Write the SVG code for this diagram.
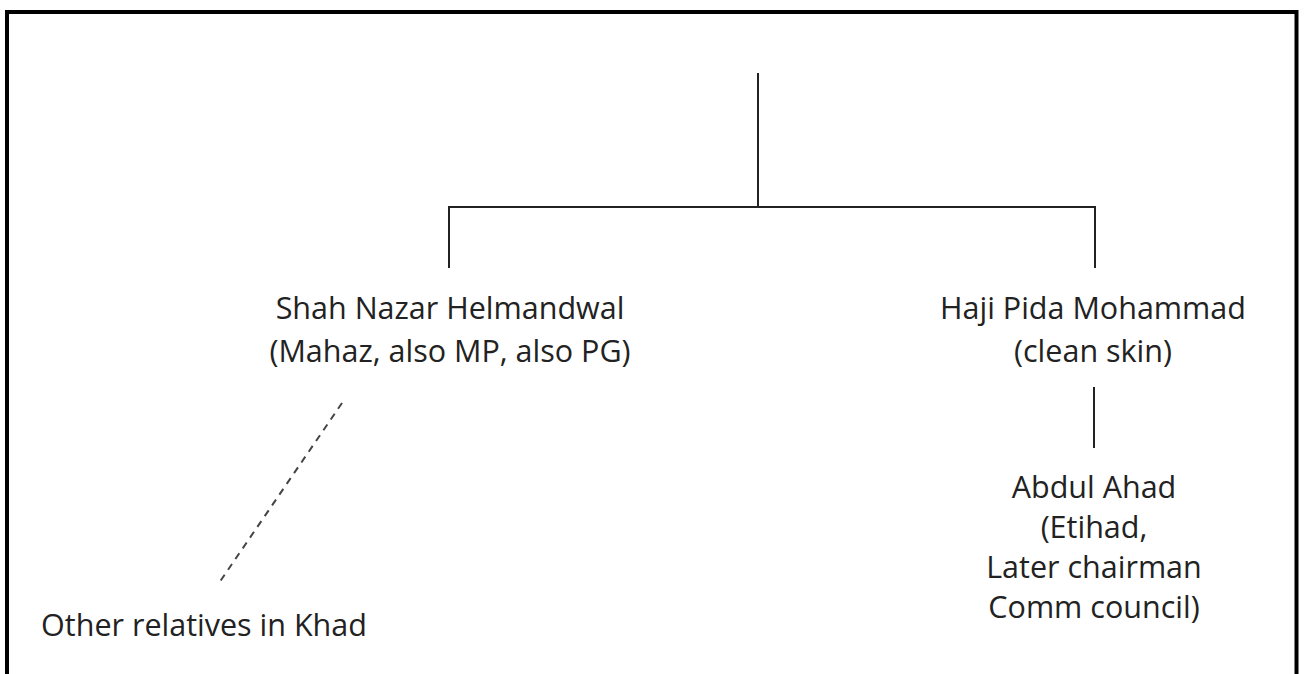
<svg xmlns="http://www.w3.org/2000/svg" width="1304" height="674" viewBox="0 0 1304 674">
<style>
.t{font-family:"Open Sans","Noto Sans","Liberation Sans",sans-serif;font-size:30.5px;fill:#222;text-anchor:middle}
.l{stroke:#222;stroke-width:2;fill:none}
.d{stroke:#444;stroke-width:2;fill:none;stroke-dasharray:7 6}
</style>
<rect x="0" y="0" width="1304" height="674" fill="#fff"/>
<rect x="7" y="12" width="1289.5" height="700" fill="none" stroke="#000" stroke-width="4"/>
<g id="connectors">
<path class="l" d="M758 73V207M449 268V207H1095V268"/>
<path class="l" d="M1094 387V448"/>
<path class="d" d="M342 403L219 583"/>
</g>
<g id="shah"><text class="t" x="450" y="319">Shah Nazar Helmandwal</text><text class="t" x="450" y="362">(Mahaz, also MP, also PG)</text></g>
<g id="haji"><text class="t" x="1093" y="319">Haji Pida Mohammad</text><text class="t" x="1093" y="362">(clean skin)</text></g>
<g id="abdul"><text class="t" x="1094" y="498">Abdul Ahad</text><text class="t" x="1094" y="538">(Etihad,</text><text class="t" x="1094" y="578">Later chairman</text><text class="t" x="1094" y="618">Comm council)</text></g>
<g id="others"><text class="t" x="204" y="636">Other relatives in Khad</text></g>
</svg>
